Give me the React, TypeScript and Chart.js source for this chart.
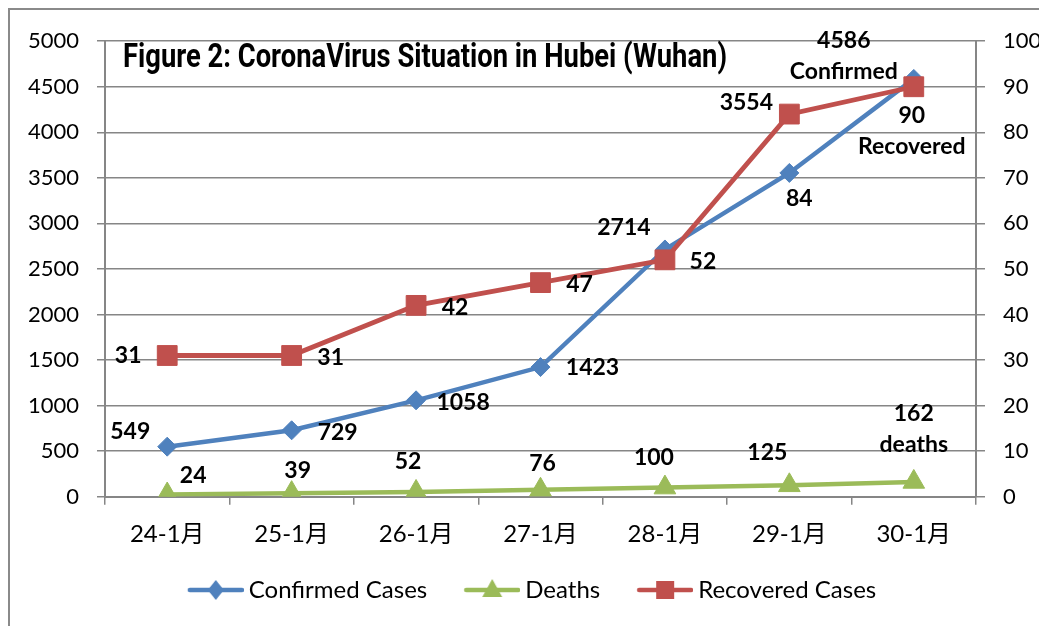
import React, { useEffect, useRef } from "react";
import { Chart, registerables } from "chart.js";

Chart.register(...registerables);

// ---- data ----
const categories = ["24-1月", "25-1月", "26-1月", "27-1月", "28-1月", "29-1月", "30-1月"];
const confirmedCases = [549, 729, 1058, 1423, 2714, 3554, 4586];
const deaths = [24, 39, 52, 76, 100, 125, 162];
const recoveredCases = [31, 31, 42, 47, 52, 84, 90];

const confirmedLabels: (string | string[])[] = ["549", "729", "1058", "1423", "2714", "3554", ["4586", "Confirmed"]];
const deathLabels: (string | string[])[] = ["24", "39", "52", "76", "100", "125", ["162", "deaths"]];
const recoveredLabels: (string | string[])[] = ["31", "31", "42", "47", "52", "84", ["90", "Recovered"]];

const leftAxisMin = 0;
const leftAxisMax = 5000;
const leftAxisStep = 500;
const rightAxisMin = 0;
const rightAxisMax = 100;
const rightAxisStep = 10;

const titleText = "Figure 2: CoronaVirus Situation in Hubei (Wuhan)";

// ---- styling ----
const FONT = "Lato, 'Noto Sans CJK SC', sans-serif";
const BLUE = "#4F81BD";
const RED = "#C0504D";
const GREEN = "#9BBB59";
const GRID = "#868686";

// label offsets (centre of text relative to the point)
const confirmedOffsets = [[-37, -15], [46, 2], [47, 2], [52, 1], [-41, -22], [-43, -70], [-70, -38]];
const deathOffsets = [[26, -19], [6, -23], [-8, -30], [2, -26], [-11, -30], [-22, -33], [0, -68]];
const recoveredOffsets = [[-39, 0], [39, 2], [39, 2], [39, 2], [38, 2], [10, 84], [-2, 29]];

function makeIcon(color: string, shape: "diamond" | "triangle" | "square") {
  const c = document.createElement("canvas");
  c.width = 70;
  c.height = 24;
  const g = c.getContext("2d")!;
  const cy = 12;
  g.strokeStyle = color;
  g.lineWidth = 4.5;
  g.lineCap = "round";
  g.beginPath();
  g.moveTo(16, cy);
  g.lineTo(68, cy);
  g.stroke();
  const cx = 42;
  g.fillStyle = color;
  g.beginPath();
  if (shape === "diamond") {
    g.moveTo(cx - 8, cy);
    g.lineTo(cx, cy - 10);
    g.lineTo(cx + 8, cy);
    g.lineTo(cx, cy + 10);
  } else if (shape === "triangle") {
    g.moveTo(cx, cy - 11);
    g.lineTo(cx + 10, cy + 7);
    g.lineTo(cx - 10, cy + 7);
  } else {
    g.rect(cx - 9, cy - 9, 18, 18);
  }
  g.closePath();
  g.fill();
  return c;
}

const labelPlugin = {
  id: "valueLabels",
  afterDatasetsDraw(chart: any) {
    const ctx = chart.ctx;
    const sets = [
      { labels: confirmedLabels, offsets: confirmedOffsets },
      { labels: deathLabels, offsets: deathOffsets },
      { labels: recoveredLabels, offsets: recoveredOffsets },
    ];
    ctx.save();
    ctx.font = `bold 23px ${FONT}`;
    ctx.fillStyle = "#000";
    ctx.textAlign = "center";
    ctx.textBaseline = "middle";
    sets.forEach((s, di) => {
      const meta = chart.getDatasetMeta(di);
      s.labels.forEach((lab, i) => {
        const pt = meta.data[i];
        if (!pt) return;
        const [dx, dy] = s.offsets[i];
        const lines = Array.isArray(lab) ? lab : [lab];
        lines.forEach((t, k) => ctx.fillText(t, pt.x + dx, pt.y + dy + k * 31));
      });
    });
    ctx.restore();
  },
};

const titlePlugin = {
  id: "innerTitle",
  afterDraw(chart: any) {
    const ctx = chart.ctx;
    ctx.save();
    ctx.font = `bold 34px Roboto, 'DejaVu Sans', sans-serif`;
    ctx.fillStyle = "#000";
    ctx.textAlign = "left";
    ctx.textBaseline = "alphabetic";
    const w = ctx.measureText(titleText).width;
    const sx = 604 / w;
    ctx.translate(113, 57);
    ctx.scale(sx, 1);
    ctx.fillText(titleText, 0, 0);
    ctx.restore();
  },
};

export default function App() {
  const ref = useRef<HTMLCanvasElement>(null);
  useEffect(() => {
    document.documentElement.style.overflow = "hidden";
    const canvas = ref.current!;
    const icons = [makeIcon(BLUE, "diamond"), makeIcon(GREEN, "triangle"), makeIcon(RED, "square")];
    const yFont = { family: FONT, size: 22 };
    const xFont = { family: FONT, size: 24 };
    const plain = (v: any) => String(v);
    const chart = new Chart(canvas, {
      type: "line",
      data: {
        labels: categories,
        datasets: [
          {
            label: "Confirmed Cases",
            data: confirmedCases,
            yAxisID: "y",
            borderColor: BLUE,
            backgroundColor: BLUE,
            borderWidth: 4.5,
            pointStyle: "rectRot",
            pointRadius: 9.5,
            pointBackgroundColor: BLUE,
            pointBorderColor: BLUE,
            pointBorderWidth: 1,
            tension: 0,
            order: 2,
          },
          {
            label: "Deaths",
            data: deaths,
            yAxisID: "y",
            borderColor: GREEN,
            backgroundColor: GREEN,
            borderWidth: 4.5,
            pointStyle: "triangle",
            pointRadius: 12.5,
            pointBackgroundColor: GREEN,
            pointBorderColor: GREEN,
            pointBorderWidth: 1,
            tension: 0,
            order: 1,
          },
          {
            label: "Recovered Cases",
            data: recoveredCases,
            yAxisID: "y1",
            borderColor: RED,
            backgroundColor: RED,
            borderWidth: 4.8,
            pointStyle: "rect",
            pointRadius: 14,
            pointBackgroundColor: RED,
            pointBorderColor: RED,
            pointBorderWidth: 1,
            tension: 0,
            order: 0,
          },
        ],
      },
      options: {
        responsive: false,
        animation: false,
        events: [],
        layout: { padding: { top: 10.7, bottom: 14, left: 0, right: 0 } },
        plugins: {
          legend: {
            position: "bottom",
            labels: {
              usePointStyle: true,
              pointStyleWidth: 56,
              padding: 30,
              color: "#000",
              font: { family: FONT, size: 24 },
              sort: (a: any, b: any) => a.datasetIndex - b.datasetIndex,
              generateLabels: (ch: any) =>
                ch.data.datasets.map((ds: any, i: number) => ({
                  text: ds.label,
                  fillStyle: ds.borderColor,
                  strokeStyle: ds.borderColor,
                  lineWidth: 0,
                  hidden: false,
                  datasetIndex: i,
                  pointStyle: icons[i],
                  fontColor: "#000",
                })),
            },
          },
          tooltip: { enabled: false },
          title: { display: false },
        },
        scales: {
          x: {
            type: "category",
            offset: true,
            grid: { offset: true, drawOnChartArea: false, drawTicks: true, tickLength: 8, color: GRID, lineWidth: 1.5 },
            border: { color: GRID, width: 2 },
            ticks: { color: "#000", font: xFont, padding: 15, maxRotation: 0, autoSkip: false },
            afterFit: (s: any) => {
              s.height = 51.3;
            },
          },
          y: {
            position: "left",
            min: leftAxisMin,
            max: leftAxisMax,
            ticks: { stepSize: leftAxisStep, color: "#000", font: yFont, padding: 18, callback: plain },
            grid: { color: GRID, lineWidth: 1.5, tickLength: 8 },
            border: { color: GRID, width: 2 },
            afterFit: (s: any) => {
              s.width = 95;
            },
          },
          y1: {
            position: "right",
            min: rightAxisMin,
            max: rightAxisMax,
            ticks: { stepSize: rightAxisStep, color: "#000", font: yFont, padding: 18, callback: plain },
            grid: { drawOnChartArea: false, color: GRID, lineWidth: 1.5, tickLength: 9 },
            border: { color: GRID, width: 2 },
            afterFit: (s: any) => {
              s.width = 71;
            },
          },
        },
      },
      plugins: [labelPlugin, titlePlugin],
    });
    return () => chart.destroy();
  }, []);
  return (
    <div
      style={{
        borderLeft: "2px solid #8a8a8a",
        borderTop: "2px solid #8a8a8a",
        width: 1037,
        height: 616,
        background: "#fff",
      }}
    >
      <canvas ref={ref} width={1037} height={616} style={{ display: "block", width: 1037, height: 616 }} />
    </div>
  );
}
